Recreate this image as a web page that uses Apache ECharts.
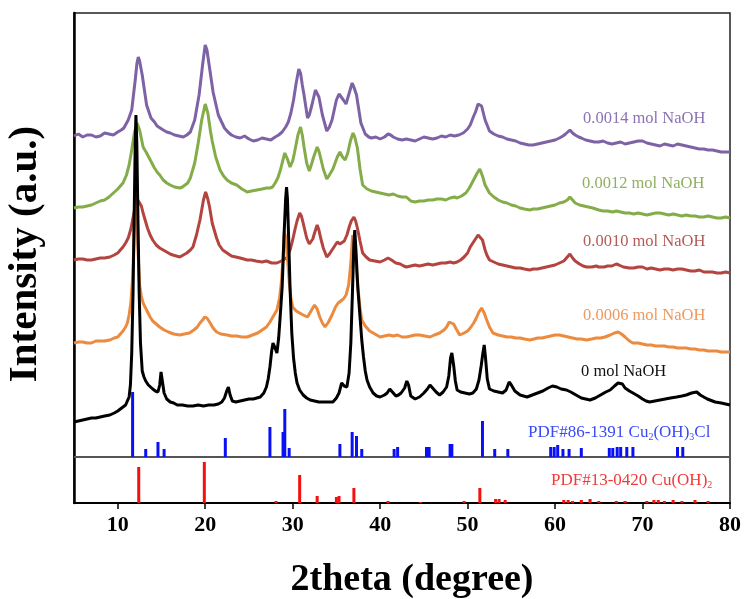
<!DOCTYPE html>
<html>
<head>
<meta charset="utf-8">
<script src="https://cdn.jsdelivr.net/npm/echarts@6/dist/echarts.min.js"></script>
<style>html,body{margin:0;padding:0;background:#fff;}#c{width:746px;height:599px;}</style>
</head>
<body>
<div id="c"></div>
<script>
// 2theta (degree) vs intensity (a.u., stacked offsets as drawn)
const xTickLabels = [10, 20, 30, 40, 50, 60, 70, 80];

const naoh0014 = [[5,367],[5.5,369],[6,366],[6.5,368],[7,368],[7.5,366],[8,367],[8.5,370],[9,369],[9.5,368],[10,371],[10.4,373],[10.7,375],[11.2,383],[11.6,393],[12.0,423],[12.2,440],[12.35,446],[12.5,442],[12.8,428],[13.3,398],[13.8,385],[14.2,381],[14.5,377],[15.2,373],[15.6,371],[16,370],[16.5,368],[17,367],[17.5,366],[17.9,368],[18.3,371],[18.8,383],[19.3,408],[19.7,438],[20.0,458],[20.2,453],[20.5,435],[20.9,411],[21.5,388],[22.2,375],[22.6,371],[23,368],[23.5,366],[24,365],[24.5,367],[25,364],[25.5,362],[26,363],[26.5,365],[27,364],[27.5,363],[28,366],[28.4,368],[28.8,371],[29.2,376],[29.5,381],[29.8,390],[30.1,403],[30.4,420],[30.7,434],[30.9,430],[31.1,418],[31.3,408],[31.7,385],[31.9,388],[32.2,398],[32.6,413],[32.8,414],[33.0,406],[33.4,388],[33.9,372],[34.2,376],[34.5,383],[35.0,403],[35.3,409],[35.5,407],[35.8,403],[36.1,399],[36.5,411],[36.8,420],[37.0,416],[37.3,408],[37.8,380],[38.3,369],[38.7,366],[39,365],[39.5,366],[40,364],[40.5,366],[40.9,369],[41.2,368],[41.5,366],[42,364],[42.5,363],[43,364],[43.5,363],[44,362],[44.5,364],[45,366],[45.5,365],[46,364],[46.5,365],[47,367],[47.5,366],[48,368],[48.5,367],[49,368],[49.5,370],[50,374],[50.3,378],[50.7,387],[50.9,391],[51.2,399],[51.4,401],[51.6,397],[52.0,383],[52.5,372],[53,369],[53.5,367],[54,366],[54.5,364],[55,363],[55.5,362],[56,360],[56.5,359],[57,358],[57.5,358],[58,359],[58.5,360],[59,361],[59.5,362],[60,363],[60.5,365],[60.9,367],[61.2,369],[61.7,373],[62,370],[62.3,368],[62.7,366],[63,365],[63.5,363],[64,362],[64.5,361],[65,361],[65.5,362],[66,360],[66.5,359],[67,360],[67.5,361],[68,359],[68.5,360],[69,361],[69.5,362],[70,362],[70.5,360],[71,359],[71.5,358],[72,357],[72.5,359],[73,358],[73.5,357],[74,359],[74.5,358],[75,357],[75.5,356],[76,355],[76.5,354],[77,354],[77.5,353],[78,353],[78.5,352],[79,351],[79.5,351],[80,351]];

const naoh0012 = [[5,295],[5.5,296],[6,296],[6.5,297],[7,298],[7.5,300],[8,302],[8.5,303],[9,306],[9.5,310],[10,314],[10.6,320],[11.0,328],[11.3,338],[11.6,353],[11.9,370],[12.2,380],[12.5,373],[12.9,356],[13.3,350],[13.6,345],[13.9,340],[14.2,335],[14.5,331],[14.8,328],[15.2,323],[15.6,320],[16,318],[16.5,316],[17.1,315],[17.4,316],[17.7,318],[18.0,320],[18.3,325],[18.8,340],[19.2,360],[19.6,383],[20.0,399],[20.3,390],[20.6,372],[20.8,362],[21.2,346],[21.7,333],[22.1,327],[22.5,323],[23,320],[23.6,318],[24.2,314],[24.8,311],[25.3,312],[25.9,313],[26.5,314],[27,315],[27.4,315],[27.7,316],[28.0,320],[28.3,325],[28.6,333],[28.8,340],[29.1,350],[29.4,344],[29.7,336],[30.0,342],[30.2,350],[30.6,368],[30.9,376],[31.1,368],[31.3,356],[31.6,340],[31.9,332],[32.2,340],[32.4,346],[32.8,356],[33.0,352],[33.2,345],[33.5,334],[33.9,324],[34.2,328],[34.6,334],[35.1,346],[35.4,351],[35.7,346],[36.0,343],[36.3,350],[36.6,362],[36.9,370],[37.1,366],[37.4,355],[37.7,334],[38.0,318],[38.5,314],[39,312],[39.5,311],[40,310],[40.5,309],[41,308],[41.5,309],[42,307],[42.5,306],[43,306],[43.5,302],[44,301],[44.5,302],[45,302],[45.5,303],[46,303],[46.5,304],[47,304],[47.5,303],[48,305],[48.5,306],[48.8,305],[49.3,307],[49.8,310],[50.2,315],[50.5,320],[50.8,325],[51.1,330],[51.4,334],[51.7,327],[52.0,318],[52.5,310],[53,306],[53.5,303],[54,301],[54.5,300],[55,298],[55.5,297],[56,295],[56.5,294],[57.1,293],[57.5,294],[58,294],[58.5,295],[59,296],[59.5,297],[60,298],[60.5,300],[61.0,301],[61.4,303],[61.7,306],[62.0,303],[62.3,300],[62.8,298],[63.3,297],[63.8,296],[64.3,295],[65,293],[65.5,292],[66,292],[66.6,291],[67,292],[67.5,291],[68,290],[68.5,290],[69,289],[69.5,290],[70,289],[70.5,288],[71,289],[71.5,290],[72,290],[72.5,289],[73,288],[73.5,289],[74,288],[74.5,287],[75,288],[75.5,287],[76,287],[76.5,286],[77,286],[77.5,287],[78,286],[78.5,285],[79,285],[79.5,286],[80,285]];

const naoh0010 = [[5,243],[5.5,244],[6,244],[6.5,243],[7,243],[7.5,244],[8,245],[8.5,245],[9.1,246],[9.6,248],[10,250],[10.3,253],[10.6,256],[10.9,260],[11.2,265],[11.5,274],[11.7,283],[11.9,292],[12.1,298],[12.3,303],[12.5,302],[12.7,297],[12.9,290],[13.2,281],[13.4,275],[13.7,268],[14.0,263],[14.4,258],[14.8,255],[15.2,253],[15.6,251],[16.0,249],[16.3,248],[16.7,247],[17.1,246],[17.5,248],[17.9,250],[18.3,253],[18.6,256],[19.0,268],[19.4,283],[19.8,303],[20.05,311],[20.3,304],[20.5,296],[20.8,280],[21.3,265],[21.6,258],[22,253],[22.5,250],[23,247],[23.5,246],[24,245],[24.4,244],[24.8,243],[25.3,243],[25.8,242],[26.5,241],[27,242],[27.6,240],[28.2,240],[28.7,242],[29.3,245],[29.7,253],[30.0,263],[30.3,275],[30.5,282],[30.8,290],[31.0,287],[31.2,280],[31.6,265],[31.9,259],[32.1,258],[32.3,264],[32.5,270],[32.8,278],[33.0,273],[33.2,265],[33.5,255],[33.9,246],[34.2,249],[34.5,253],[34.8,257],[35.1,261],[35.4,259],[35.6,258],[35.9,262],[36.2,268],[36.5,277],[36.7,282],[37.0,286],[37.2,282],[37.4,275],[37.7,262],[38.0,250],[38.4,246],[38.8,243],[39.4,242],[40.0,241],[40.5,243],[40.9,245],[41.3,243],[41.8,240],[42.3,239],[42.7,237],[43.0,236],[43.5,237],[44,238],[44.5,237],[45,238],[45.5,239],[46,238],[46.5,239],[47,240],[47.5,240],[48,241],[48.4,240],[48.8,241],[49.2,243],[49.6,246],[50.0,250],[50.3,256],[50.6,260],[50.9,264],[51.2,268],[51.4,268],[51.7,263],[52.0,253],[52.2,248],[52.5,243],[53,241],[53.5,239],[54,238],[54.5,237],[55,236],[55.5,235],[56,235],[56.5,234],[57.1,233],[57.5,234],[58,234],[58.5,235],[59,236],[59.5,237],[60,238],[60.5,240],[61.0,242],[61.3,245],[61.7,249],[62.0,245],[62.3,242],[62.8,239],[63.2,237],[63.6,236],[64.2,236],[64.7,237],[65,236],[65.6,236],[66.0,237],[66.5,237],[67.0,239],[67.3,238],[67.8,236],[68.5,235],[69,235],[69.5,236],[70,236],[70.5,234],[71,235],[71.5,234],[72,233],[72.5,234],[73,234],[73.5,233],[74,234],[74.5,234],[75,233],[75.5,232],[76,232],[76.5,233],[77,231],[77.5,231],[78,231],[78.5,230],[79,230],[79.5,231],[80,230]];

const naoh0006 = [[5,160],[5.5,161],[6,161],[6.5,160],[7,160],[7.5,162],[8,162],[8.5,162],[9.1,163],[9.6,165],[10,166],[10.3,169],[10.6,172],[10.9,176],[11.1,180],[11.3,188],[11.5,200],[11.7,225],[11.85,260],[11.95,300],[12.05,318],[12.15,300],[12.3,255],[12.5,218],[12.7,207],[12.9,200],[13.3,193],[13.7,186],[14.0,182],[14.4,179],[14.8,176],[15.3,173],[15.8,171],[16.4,169],[17.1,168],[17.6,169],[18.2,170],[18.7,173],[19.1,176],[19.4,180],[19.7,183],[19.95,186],[20.2,185],[20.5,181],[20.9,175],[21.3,171],[21.8,169],[22.5,168],[23,167],[23.6,167],[24.2,166],[24.8,166],[25.4,168],[26,170],[26.5,173],[27.0,176],[27.4,181],[27.8,187],[28.2,193],[28.5,205],[28.7,220],[28.9,245],[29.05,272],[29.2,265],[29.4,245],[29.6,222],[29.8,205],[30.0,196],[30.4,192],[30.8,190],[31.2,188],[31.7,186],[32.1,192],[32.5,198],[32.8,194],[33.1,186],[33.4,180],[33.7,176],[34.1,181],[34.5,188],[34.9,196],[35.2,200],[35.5,202],[35.8,204],[36.1,208],[36.4,218],[36.65,240],[36.85,268],[37.05,255],[37.3,232],[37.5,212],[37.7,195],[37.9,183],[38.3,177],[38.8,172],[39.4,169],[40,166],[40.5,167],[41,168],[41.5,167],[42,168],[42.5,166],[43,166],[43.5,167],[44,168],[44.5,168],[45.1,167],[45.7,166],[46.2,168],[46.8,170],[47.3,173],[47.6,176],[47.9,181],[48.1,183],[48.4,179],[48.7,174],[49.1,168],[49.6,170],[50.0,172],[50.3,175],[50.7,180],[51.0,185],[51.3,191],[51.6,195],[51.9,190],[52.1,185],[52.5,176],[52.9,170],[53.5,168],[54,167],[54.5,166],[55,166],[55.5,165],[56,165],[56.5,164],[57.1,163],[57.6,164],[58,165],[58.5,165],[59,166],[59.5,167],[60,168],[60.5,168],[61,167],[61.5,166],[62,165],[62.5,164],[63,164],[63.6,163],[64.2,164],[64.7,165],[65.2,165],[65.7,166],[66.3,168],[66.8,170],[67.2,171],[67.6,169],[68.0,166],[68.5,162],[68.9,160],[69.5,160],[70,159],[70.5,158],[71,158],[71.5,157],[72,157],[72.5,157],[73,156],[73.5,156],[74,155],[74.5,155],[75,155],[75.5,154],[76,154],[76.5,153],[77,153],[77.5,152],[78,152],[78.5,152],[79,151],[79.5,151],[80,151]];

const naoh0000 = [[5,81],[5.5,82],[6,83],[6.5,84],[7,85],[7.5,85],[8,86],[8.5,87],[9.1,88],[9.6,90],[10,92],[10.3,94],[10.6,96],[10.9,98],[11.1,100],[11.3,106],[11.45,118],[11.6,150],[11.75,210],[11.9,300],[12.0,360],[12.08,388],[12.18,360],[12.3,290],[12.45,210],[12.6,160],[12.8,132],[13.0,126],[13.2,122],[13.5,118],[13.7,116],[14.0,114],[14.3,112],[14.6,111],[14.8,118],[14.95,131],[15.1,122],[15.3,110],[15.6,104],[16.0,101],[16.4,100],[16.8,98],[17.4,98],[18,97],[18.6,97],[19.2,98],[19.8,97],[20.4,98],[21.0,98],[21.5,99],[21.9,101],[22.2,105],[22.5,113],[22.65,116],[22.85,108],[23.1,102],[23.5,101],[24,102],[24.5,103],[25,104],[25.5,104],[25.9,105],[26.3,106],[26.7,110],[27.0,116],[27.2,124],[27.4,136],[27.6,152],[27.75,160],[27.95,156],[28.2,150],[28.4,165],[28.6,190],[28.8,216],[29.0,265],[29.2,305],[29.3,316],[29.4,305],[29.55,262],[29.7,215],[29.9,170],[30.1,145],[30.3,130],[30.5,120],[30.8,113],[31.2,108],[31.6,105],[32,103],[32.5,102],[33,101],[33.5,101],[34,101],[34.6,101],[35.0,105],[35.3,110],[35.6,120],[35.9,117],[36.2,116],[36.45,130],[36.65,160],[36.85,215],[37.0,260],[37.1,273],[37.25,250],[37.45,215],[37.7,186],[37.9,163],[38.1,146],[38.3,132],[38.5,123],[38.8,116],[39.2,110],[39.6,107],[40.0,106],[40.5,108],[40.8,110],[41.1,114],[41.4,111],[41.8,107],[42.1,108],[42.4,110],[42.8,115],[43.05,122],[43.25,118],[43.5,107],[44.0,104],[44.5,106],[45.0,110],[45.4,114],[45.7,118],[46.0,115],[46.4,111],[46.8,108],[47.2,111],[47.6,116],[47.85,127],[48.05,145],[48.2,150],[48.4,138],[48.6,122],[48.8,113],[49.2,111],[49.7,110],[50.2,109],[50.6,110],[51.0,114],[51.3,123],[51.55,137],[51.75,150],[51.9,158],[52.05,145],[52.25,124],[52.5,114],[53,112],[53.5,111],[54,110],[54.4,113],[54.75,121],[55.0,118],[55.4,112],[56,108],[56.8,106],[57.4,108],[58,110],[58.6,112],[59.2,115],[59.7,117],[60.2,116],[60.7,114],[61.3,113],[61.8,111],[62.4,108],[63,105],[63.5,104],[64,103],[64.6,105],[65.2,108],[65.8,111],[66.3,113],[66.8,117],[67.2,120],[67.4,122],[67.7,119],[68.0,115],[68.5,112],[68.9,110],[69.5,107],[70,104],[70.4,102],[70.8,101],[71.4,102],[72,103],[72.6,104],[73.2,105],[73.9,106],[74.5,107],[75,108],[75.6,110],[76.2,111],[76.6,108],[77.0,106],[77.4,104],[77.7,103],[78.3,101],[79,100],[79.5,99],[80,98]];

// reference stick patterns: [2theta, relative height]
const pdf86_1391 = [[11.7,65],[13.2,8],[14.6,15],[15.3,8],[22.3,19],[27.4,30],[28.9,25],[29.1,48],[29.6,9],[35.4,13],[36.8,25],[37.3,21],[37.9,8],[41.6,8],[42.0,10],[45.3,10],[45.6,10],[48.0,13],[48.2,13],[51.7,36],[53.1,8],[54.6,8],[59.5,10],[59.9,10],[60.3,12],[60.9,8],[61.6,8],[63.0,9],[66.2,9],[66.6,9],[67.1,10],[67.5,10],[68.2,10],[68.9,10],[74.0,10],[74.6,10]];
const pdf13_0420 = [[12.4,36],[19.9,41],[28.1,2],[30.8,28],[32.8,7],[35.0,6],[35.3,7],[37.0,15],[40.9,2],[44.6,1],[49.6,2],[51.4,15],[53.2,4],[53.6,4],[54.3,3],[61.0,3],[61.5,3],[62.0,2],[63.0,3],[64.0,4],[65.0,2],[67.0,2],[68.0,2],[70.5,2],[71.3,3],[71.8,3],[72.5,2],[73.5,3],[74.5,2],[76.0,3],[77.5,2]];
const pdfBlueBase = 46;  // stick baseline of upper reference panel
const pdfRedBase = 0;

const seriesNames = ['0.0014 mol NaOH','0.0012 mol NaOH','0.0010 mol NaOH','0.0006 mol NaOH','0 mol NaOH'];
const seriesData = [naoh0014, naoh0012, naoh0010, naoh0006, naoh0000];
const seriesColors = ['#7E62A6','#84AC48','#B3443F','#EC8A3E','#000000'];
const labelColors = ['#8A72B4','#8FB060','#B45A55','#EE9A5E','#111111'];

const chart = echarts.init(document.getElementById('c'), null, {renderer:'canvas'});

function stick(base){
  return function(params, api){
    const x = api.value(0), h = api.value(1);
    const p0 = api.coord([x, base]);
    const p1 = api.coord([x, base + h]);
    return {type:'rect', shape:{x:p0[0]-1.5, y:p1[1], width:3, height:p0[1]-p1[1]}, style:{fill: api.visual('color')}};
  };
}

const series = seriesData.map((d,i)=>({
  type:'line', name: seriesNames[i], data:d, showSymbol:false, symbol:'none', smooth:false,
  lineStyle:{color:seriesColors[i], width:3}, z: 2+i, animation:false
}));
series.push({type:'custom', name:'PDF#86-1391', data:pdf86_1391, renderItem:stick(pdfBlueBase), itemStyle:{color:'#0A10F5'}, z:10, animation:false,
  markLine:{silent:true, symbol:'none', label:{show:false}, lineStyle:{color:'#555', width:2, type:'solid'}, data:[{yAxis:pdfBlueBase}], animation:false}});
series.push({type:'custom', name:'PDF#13-0420', data:pdf13_0420, renderItem:stick(pdfRedBase), itemStyle:{color:'#F51010'}, z:10, animation:false});

const graphics = [
  {x:583, y:118, text:seriesNames[0], c:labelColors[0]},
  {x:582, y:183, text:seriesNames[1], c:labelColors[1]},
  {x:583, y:241, text:seriesNames[2], c:labelColors[2]},
  {x:583, y:315, text:seriesNames[3], c:labelColors[3]},
  {x:581, y:371, text:seriesNames[4], c:labelColors[4]}
].map(g=>({type:'text', left:g.x, top:g.y-8, z:20, style:{text:g.text, fill:g.c, font:'16.5px "Liberation Serif"'}}));
graphics.push({type:'text', left:528, top:424, z:20, style:{text:'PDF#86-1391 Cu{s|2}(OH){s|3}Cl', fill:'#3A4AF5', font:'17px "Liberation Serif"', rich:{s:{fontSize:10, fill:'#3A4AF5', fontFamily:'Liberation Serif', padding:[10,0,0,0]}}}});
graphics.push({type:'text', left:551, top:472, z:20, style:{text:'PDF#13-0420 Cu(OH){s|2}', fill:'#F03A3A', font:'17px "Liberation Serif"', rich:{s:{fontSize:10, fill:'#F03A3A', fontFamily:'Liberation Serif', padding:[10,0,0,0]}}}});

chart.setOption({
  backgroundColor:'#fff',
  animation:false,
  grid:{left:74, right:16, top:13, bottom:96, outerBoundsMode:'none', containLabel:false, show:true, borderColor:'#222', borderWidth:1.5},
  xAxis:{type:'value', min:5, max:80, interval:5,
    name:'2theta (degree)', nameLocation:'middle', nameGap:58,
    nameTextStyle:{fontFamily:'Liberation Serif', fontWeight:'bold', fontSize:38, color:'#000', padding:[0,0,0,20]},
    axisLine:{show:true, onZero:false, lineStyle:{color:'#000', width:2}},
    axisTick:{show:true, inside:false, length:6, customValues:xTickLabels, lineStyle:{color:'#000', width:1.5}},
    axisLabel:{customValues:xTickLabels, fontFamily:'Liberation Serif', fontWeight:'bold', fontSize:22, color:'#000', margin:11},
    splitLine:{show:false}},
  yAxis:{type:'value', min:0, max:490,
    name:'Intensity (a.u.)', nameLocation:'middle', nameGap:28,
    nameTextStyle:{fontFamily:'Liberation Serif', fontWeight:'bold', fontSize:41, color:'#000', padding:[0,0,0,8]},
    axisLine:{show:true, lineStyle:{color:'#000', width:2.5}},
    axisTick:{show:false}, axisLabel:{show:false}, splitLine:{show:false}},
  graphic: graphics,
  series: series
});
</script>
</body>
</html>
